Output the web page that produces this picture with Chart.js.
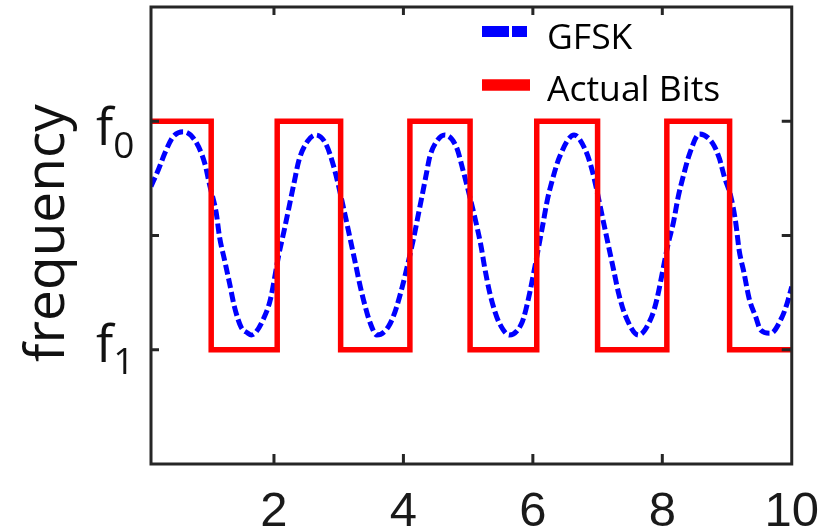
<!DOCTYPE html>
<html>
<head>
<meta charset="utf-8">
<title>GFSK vs actual bits</title>
<script src="https://cdn.jsdelivr.net/npm/chart.js@4.4.1/dist/chart.umd.min.js"></script>
<style>
  html, body { margin: 0; padding: 0; background: #fff; }
</style>
</head>
<body>
<canvas id="chart" width="830" height="527"></canvas>
<script>
// GFSK trace (x = bit time, y: +1 = f0, -1 = f1)
const gfskX = [0.10, 0.212, 0.315, 0.442, 0.596, 0.775, 0.929, 1.006, 1.108, 1.159,
  1.236, 1.313, 1.390, 1.492, 1.593, 1.65, 1.722, 1.850, 1.942, 2.080,
  2.159, 2.234, 2.310, 2.387, 2.514, 2.643, 2.797, 2.924, 3.104, 3.181,
  3.258, 3.334, 3.411, 3.488, 3.589, 3.768, 3.896, 4.152, 4.229, 4.306,
  4.356, 4.408, 4.510, 4.639, 4.817, 4.920, 5.124, 5.201, 5.253, 5.330,
  5.406, 5.483, 5.637, 5.815, 5.891, 6.148, 6.224, 6.301, 6.412, 6.637,
  6.812, 6.915, 7.095, 7.171, 7.248, 7.325, 7.426, 7.632, 7.836, 7.913,
  8.092, 8.169, 8.246, 8.322, 8.424, 8.574, 8.778, 8.881, 8.958, 9.059,
  9.136, 9.187, 9.264, 9.341, 9.442, 9.519, 9.672, 9.852, 9.929, 10.0];
const gfskY = [0.43, 0.573, 0.722, 0.865, 0.909, 0.836, 0.635, 0.442, 0.197, -0.013,
  -0.214, -0.416, -0.626, -0.801, -0.853, -0.871, -0.845, -0.713, -0.565, -0.153,
  0.048, 0.252, 0.460, 0.661, 0.821, 0.880, 0.807, 0.602, 0.165, -0.039,
  -0.243, -0.448, -0.623, -0.768, -0.871, -0.798, -0.623, -0.039, 0.179, 0.398,
  0.544, 0.690, 0.821, 0.880, 0.777, 0.573, 0.107, -0.098, -0.273, -0.492,
  -0.652, -0.768, -0.871, -0.783, -0.652, 0.077, 0.311, 0.486, 0.687, 0.880,
  0.748, 0.573, 0.107, -0.098, -0.302, -0.506, -0.696, -0.871, -0.711, -0.565,
  -0.068, 0.107, 0.340, 0.515, 0.719, 0.888, 0.807, 0.676, 0.515, 0.340,
  0.107, -0.127, -0.331, -0.550, -0.711, -0.827, -0.856, -0.711, -0.593, -0.448];

// actual bits: corners of the square wave
const bitsX = [0.1, 1.03, 1.03, 2.05, 2.05, 3.03, 3.03, 4.1, 4.1, 5.03,
  5.03, 6.06, 6.06, 7.0, 7.0, 8.07, 8.07, 9.04, 9.04, 10];
const bitsY = [1, 1, -1, -1, 1, 1, -1, -1, 1, 1,
  -1, -1, 1, 1, -1, -1, 1, 1, -1, -1];

const xTicks = [2, 4, 6, 8, 10];
const yTicks = [-1, 0, 1];
const yLabelValues = [1, -1];
const yLabelSubs = ['0', '1'];
const seriesNames = ['GFSK', 'Actual Bits'];
const seriesColors = ['#0000ff', '#ff0000'];
const yTitle = 'frequency';

const AXIS = '#262626';

function toPoints(xs, ys) {
  return xs.map((x, i) => ({ x: x, y: ys[i] }));
}

// box, inward ticks, y labels, y title and legend
const decor = {
  id: 'decor',
  afterDatasetsDraw(chart) {
    const ctx = chart.ctx;
    const a = chart.chartArea;
    const x = chart.scales.x, y = chart.scales.y;
    ctx.save();
    ctx.strokeStyle = AXIS;
    ctx.lineWidth = 3;
    ctx.beginPath();
    xTicks.forEach(v => {
      if (v >= x.max) return;
      const px = x.getPixelForValue(v);
      ctx.moveTo(px, a.bottom); ctx.lineTo(px, a.bottom - 10);
      ctx.moveTo(px, a.top); ctx.lineTo(px, a.top + 8);
    });
    yTicks.forEach(v => {
      const py = y.getPixelForValue(v);
      ctx.moveTo(a.left, py); ctx.lineTo(a.left + 8, py);
      ctx.moveTo(a.right, py); ctx.lineTo(a.right - 10, py);
    });
    ctx.stroke();
    ctx.strokeRect(a.left, a.top, a.right - a.left, a.bottom - a.top);
    ctx.restore();
  },
  afterDraw(chart) {
    const ctx = chart.ctx;
    const y = chart.scales.y;
    ctx.save();
    ctx.fillStyle = '#111';
    ctx.textAlign = 'left';
    ctx.textBaseline = 'alphabetic';

    // f0 / f1 tick labels
    const shift = { '0': 24, '1': 12 };
    yLabelValues.forEach((v, i) => {
      const py = y.getPixelForValue(v);
      const base = py + shift[yLabelSubs[i]];
      ctx.font = '51px "Open Sans"';
      ctx.fillText('f', 96, base);
      const w = ctx.measureText('f').width;
      ctx.font = '37px "Open Sans"';
      ctx.fillText(yLabelSubs[i], 96 + w, base + 12.5);
    });

    // axis title
    ctx.save();
    ctx.translate(64, 233);
    ctx.rotate(-Math.PI / 2);
    ctx.textAlign = 'center';
    ctx.font = '55px "Open Sans"';
    ctx.fillText(yTitle, 0, 0);
    ctx.restore();

    // legend
    ctx.lineCap = 'butt';
    ctx.strokeStyle = seriesColors[0];
    ctx.lineWidth = 11;
    ctx.setLineDash([27, 3]);
    ctx.beginPath(); ctx.moveTo(482, 31.5); ctx.lineTo(527, 31.5); ctx.stroke();
    ctx.setLineDash([]);
    ctx.strokeStyle = seriesColors[1];
    ctx.lineWidth = 11.5;
    ctx.beginPath(); ctx.moveTo(482, 85); ctx.lineTo(530, 85); ctx.stroke();
    ctx.font = '35.5px "Open Sans"';
    ctx.fillStyle = '#000';
    ctx.fillText(seriesNames[0], 547, 48.5);
    ctx.fillText(seriesNames[1], 547, 101);
    ctx.restore();
  }
};

new Chart('chart', {
  type: 'line',
  data: {
    datasets: [{
      label: seriesNames[1],
      data: toPoints(bitsX, bitsY),
      borderColor: seriesColors[1],
      borderWidth: 5.5,
      borderJoinStyle: 'miter',
      pointRadius: 0,
      tension: 0,
      order: 0
    }, {
      label: seriesNames[0],
      data: toPoints(gfskX, gfskY),
      borderColor: seriesColors[0],
      borderWidth: 5,
      borderDash: [10, 4],
      pointRadius: 0,
      cubicInterpolationMode: 'monotone',
      order: 1
    }]
  },
  options: {
    responsive: false,
    animation: false,
    devicePixelRatio: 1,
    layout: { padding: { top: 7, right: 34 } },
    plugins: {
      legend: { display: false },
      tooltip: { enabled: false }
    },
    scales: {
      x: {
        type: 'linear',
        min: 0.1,
        max: 10,
        afterBuildTicks: s => { s.ticks = xTicks.map(v => ({ value: v })); },
        afterFit: s => { s.height = 63; },
        grid: { display: false },
        border: { display: false },
        ticks: {
          autoSkip: false,
          maxRotation: 0,
          padding: 11,
          color: '#1a1a1a',
          font: { family: '"Liberation Sans", Arial, sans-serif', size: 49 }
        }
      },
      y: {
        type: 'linear',
        min: -2,
        max: 2,
        afterBuildTicks: s => { s.ticks = yTicks.map(v => ({ value: v })); },
        afterFit: s => { s.width = 151; },
        grid: { display: false },
        border: { display: false },
        ticks: { display: false }
      }
    }
  },
  plugins: [decor]
});
</script>
</body>
</html>
